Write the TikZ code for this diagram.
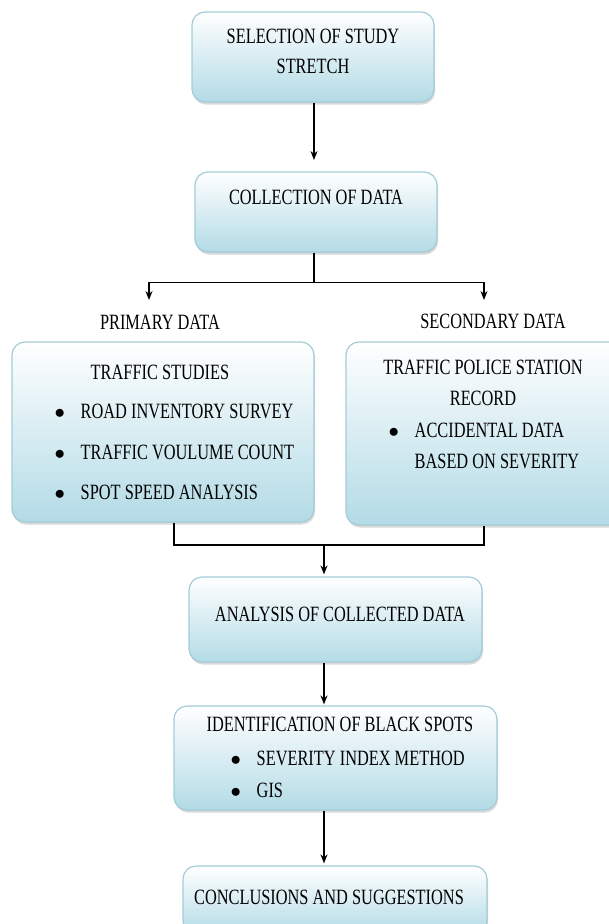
\documentclass[tikz,border=0pt]{standalone}
\usepackage{fontspec}
\setmainfont{Liberation Serif}[FakeStretch=0.75]
\usetikzlibrary{arrows.meta}
\usetikzlibrary{shadows}
\definecolor{boxblue}{HTML}{B3DBE6}
\definecolor{boxedge}{HTML}{A3CCD8}
\newcommand{\blt}{\makebox[26pt][l]{$\bullet$}}
\tikzset{stepbox/.style = {draw=boxedge, line width=1.2pt, rounded corners=13pt, top color=white, bottom color=boxblue, drop shadow={opacity=0.3, shadow xshift=1pt, shadow yshift=-2.5pt}, inner sep=0}}
\tikzset{txt/.style = {font=\fontsize{21.8}{24}\selectfont, inner sep=0}}
\tikzset{flow/.style = {-{Stealth[length=9pt,width=7pt]}}}
\begin{document}
\begin{tikzpicture}[x=1pt, y=-1pt, line width=1.4pt]
        \useasboundingbox (0,0) rectangle (609,924);
        % boxes
        \node [stepbox, minimum width=242, minimum height=90] (sel) at (313,57) {};
        \node [stepbox, minimum width=242, minimum height=80] (col) at (316,212) {};
        \node [stepbox, minimum width=302, minimum height=180] (pri) at (163,432) {};
        \node [stepbox, minimum width=276, minimum height=183] (sec) at (484,433.5) {};
        \node [stepbox, minimum width=293, minimum height=85] (ana) at (335.5,619.5) {};
        \node [stepbox, minimum width=323, minimum height=104] (ide) at (335.5,758) {};
        \node [stepbox, minimum width=304, minimum height=68] (con) at (335,900) {};
        % texts
        \node [txt] (selA) at (313,36) {SELECTION OF STUDY};
        \node [txt] (selB) at (313,66) {STRETCH};
        \node [txt] (colA) at (316,197) {COLLECTION OF DATA};
        \node [txt] (pdat) at (160,322) {PRIMARY DATA};
        \node [txt] (sdat) at (493,321) {SECONDARY DATA};
        \node [txt] (priA) at (160,372) {TRAFFIC STUDIES};
        \node [txt, anchor=west] (priB) at (54,411) {\blt ROAD INVENTORY SURVEY};
        \node [txt, anchor=west] (priC) at (54,452) {\blt TRAFFIC VOULUME COUNT};
        \node [txt, anchor=west] (priD) at (54,492) {\blt SPOT SPEED ANALYSIS};
        \node [txt] (secA) at (483,367) {TRAFFIC POLICE STATION};
        \node [txt] (secB) at (483,398) {RECORD};
        \node [txt, anchor=west] (secC) at (388,430) {\blt ACCIDENTAL DATA};
        \node [txt, anchor=west] (secD) at (414,461) {BASED ON SEVERITY};
        \node [txt] (anaA) at (340,614) {ANALYSIS OF COLLECTED DATA};
        \node [txt, anchor=west] (ideA) at (206,724) {IDENTIFICATION OF BLACK SPOTS};
        \node [txt, anchor=west] (ideB) at (230,758) {\blt SEVERITY INDEX METHOD};
        \node [txt, anchor=west] (ideC) at (230,790) {\blt GIS};
        \node [txt] (conA) at (329,897) {CONCLUSIONS AND SUGGESTIONS};
        % connectors
        \coordinate (pl) at (149,300);
        \coordinate (sl) at (484,300);
        \coordinate (join) at (324,545);
        \draw [flow] (sel.south -| 314,0) -- (314,160);
        \draw [flow] (col.south -| 314,0) -- ++(0,30) -| (pl);
        \draw [flow] (col.south -| 314,0) ++(0,30) -| (sl);
        \draw ([xshift=11pt]pri.south) |- (join) -| (sec.south);
        \draw [flow] (join) -- ([yshift=2pt]join |- ana.north);
        \draw [flow] (join |- ana.south) -- ([yshift=1pt]join |- ide.north);
        \draw [flow] (join |- ide.south) -- ([yshift=2pt]join |- con.north);
\end{tikzpicture}
\end{document}
